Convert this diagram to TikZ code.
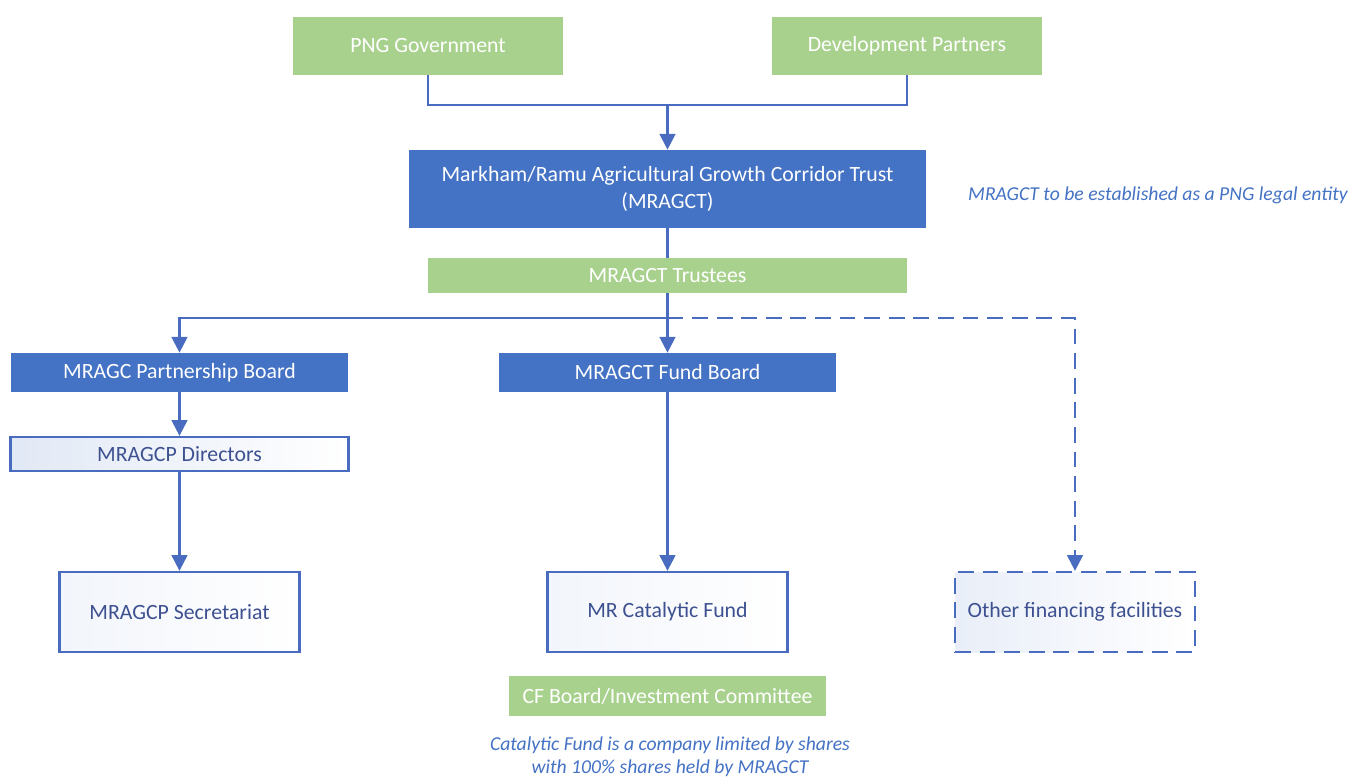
\documentclass[tikz,border=0pt]{standalone}
\usepackage{fontspec}
\setmainfont{Carlito}
\usetikzlibrary{arrows.meta}

\definecolor{mrgreen}{HTML}{A9D18E}
\definecolor{mrblue}{HTML}{4472C4}
\definecolor{mrline}{HTML}{4A6CC0}
\definecolor{mrtext}{HTML}{3D5191}

\begin{document}
\begin{tikzpicture}[x=0.02cm, y=-0.02cm,
    boxfont/.style={font=\fontsize{12.4}{15.5}\selectfont},
    greenbox/.style={boxfont, fill=mrgreen, text=white, inner sep=0pt},
    bluebox/.style={boxfont, fill=mrblue, text=white, inner sep=0pt, align=center},
    plainbox/.style={boxfont, draw=mrline, line width=1.3pt, left color=mrblue!7, right color=white, text=mrtext, inner sep=0pt},
    link/.style={draw=mrline, line width=1.3pt},
    arr/.style={link, -{Triangle[width=9pt,length=9pt]}},
    dashlink/.style={dash pattern=on 9pt off 5pt},
    note/.style={text=mrblue, font=\fontsize{11.2}{13}\selectfont\itshape, align=center}]
    \useasboundingbox (0,0) rectangle (1357,778);

    % funders
    \node[greenbox, minimum width=5.4cm, minimum height=1.16cm] (png) at (428,46) {PNG Government};
    \node[greenbox, minimum width=5.4cm, minimum height=1.16cm] (dev) at (907,46) {Development Partners};

    % trust
    \node[bluebox, minimum width=10.34cm, minimum height=1.56cm] (trust) at (667.5,189) {Markham/Ramu Agricultural Growth Corridor Trust\\(MRAGCT)};
    \node[note] (legal) at (1158,195) {MRAGCT to be established as a PNG legal entity};
    \node[greenbox, minimum width=9.58cm, minimum height=0.7cm] (trustees) at (667.5,275.5) {MRAGCT Trustees};

    % boards
    \node[bluebox, minimum width=6.76cm, minimum height=0.78cm] (pboard) at (179.5,372.5) {MRAGC Partnership Board};
    \node[bluebox, minimum width=6.76cm, minimum height=0.78cm] (fboard) at (667.5,372.5) {MRAGCT Fund Board};
    \node[plainbox, minimum width=6.76cm, minimum height=0.68cm, left color=mrblue!16] (directors) at (179.5,454) {MRAGCP Directors};

    % bottom row
    \node[plainbox, minimum width=4.8cm, minimum height=1.6cm] (secretariat) at (179.5,612) {MRAGCP Secretariat};
    \node[plainbox, minimum width=4.8cm, minimum height=1.6cm] (cfund) at (667.5,612) {MR Catalytic Fund};
    \node[plainbox, dashlink, minimum width=4.8cm, minimum height=1.6cm, left color=mrblue!12] (other) at (1075,612) {Other financing facilities};
    \node[greenbox, minimum width=6.36cm, minimum height=0.8cm] (cfboard) at (667.5,696) {CF Board/Investment Committee};
    \node[note] (shares) at (670,757) {Catalytic Fund is a company limited by shares\\with 100\% shares held by MRAGCT};

    \coordinate (jtop) at (667.5,105);
    \coordinate (jmid) at (667.5,318);

    \draw[link] (png.south) |- (jtop);
    \draw[link] (dev.south) |- (jtop);
    \draw[arr] (jtop) -- (trust.north);
    \draw[link] (trust.south) -- (trustees.north);
    \draw[link] (trustees.south) -- (jmid);
    \draw[arr] (jmid) -| (pboard.north);
    \draw[arr] (jmid) -- (fboard.north);
    \draw[arr, dashlink] (jmid) -| (other.north);
    \draw[arr] (pboard) -- (directors);
    \draw[arr] (directors) -- (secretariat);
    \draw[arr] (fboard) -- (cfund);
\end{tikzpicture}
\end{document}
